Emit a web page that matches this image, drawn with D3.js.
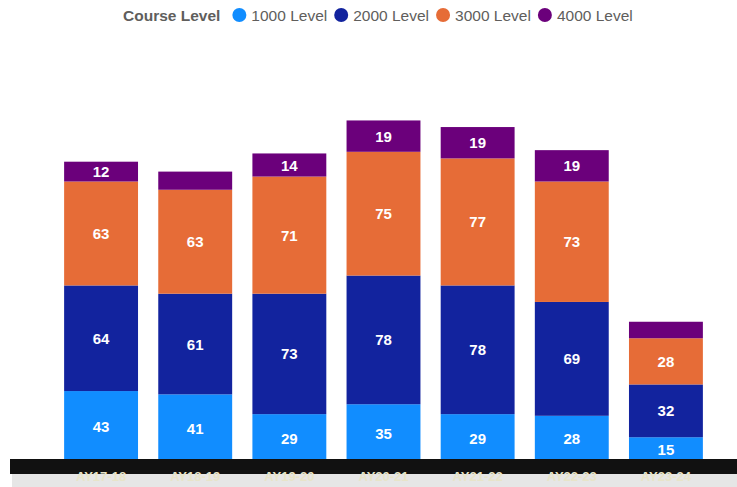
<!DOCTYPE html>
<html>
<head>
<meta charset="utf-8">
<script src="https://cdn.jsdelivr.net/npm/d3@7"></script>
<style>
  body { margin: 0; background: #fff; }
  svg { display: block; font-family: "Liberation Sans", Arial, sans-serif; }
</style>
</head>
<body>
<div id="chart"></div>
<script>
// data
const years = ["AY17-18", "AY18-19", "AY19-20", "AY20-21", "AY21-22", "AY22-23", "AY23-24"];
const levels = ["1000 Level", "2000 Level", "3000 Level", "4000 Level"];
const level1000 = [43, 41, 29, 35, 29, 28, 15];
const level2000 = [64, 61, 73, 78, 78, 69, 32];
const level3000 = [63, 63, 71, 75, 77, 73, 28];
const level4000 = [12, 11, 14, 19, 19, 19, 10];
const colors = ["#118DFF", "#12239E", "#E66C37", "#6B007B"];

const width = 737, height = 487;

const svg = d3.select("#chart").append("svg")
    .attr("width", width).attr("height", height);

// build rows for the stack
const rows = years.map((y, i) => ({
    year: y,
    "1000 Level": level1000[i],
    "2000 Level": level2000[i],
    "3000 Level": level3000[i],
    "4000 Level": level4000[i]
}));
const series = d3.stack().keys(levels)(rows);

const x = d3.scaleBand().domain(years)
    .range([54, 713])
    .paddingInner(0.215).paddingOuter(0.1075);
const y = d3.scaleLinear().domain([0, 250]).range([462, 49.5]);
const color = d3.scaleOrdinal().domain(levels).range(colors);

// bars
const groups = svg.append("g").selectAll("g")
    .data(series).enter().append("g")
    .attr("fill", d => color(d.key));

groups.selectAll("rect")
    .data(d => d).enter().append("rect")
    .attr("x", d => x(d.data.year))
    .attr("y", d => y(d[1]))
    .attr("width", x.bandwidth())
    .attr("height", d => y(d[0]) - y(d[1]));

// labels inside segments, only where they fit
groups.selectAll("text")
    .data(d => d.filter(s => y(s[0]) - y(s[1]) >= 19)).enter().append("text")
    .attr("x", d => x(d.data.year) + x.bandwidth() / 2)
    .attr("y", d => (y(d[0]) + y(d[1])) / 2)
    .attr("text-anchor", "middle")
    .attr("dominant-baseline", "central")
    .style("font-size", "15px")
    .style("font-weight", "bold")
    .style("fill", "#fff")
    .text(d => d[1] - d[0]);

// axis strip at the bottom
svg.append("rect").attr("x", 10).attr("y", 459).attr("width", width - 10).attr("height", 15)
    .attr("fill", "#111");
svg.append("rect").attr("x", 12).attr("y", 474).attr("width", width - 12).attr("height", 13)
    .attr("fill", "#e6e6e6");

svg.append("g").selectAll("text")
    .data(years).enter().append("text")
    .attr("x", d => x(d) + x.bandwidth() / 2)
    .attr("y", 476)
    .attr("text-anchor", "middle")
    .attr("dominant-baseline", "central")
    .style("font-size", "13px")
    .style("font-weight", "bold")
    .style("fill", "#e8e4c8")
    .text(d => d);

// legend
const legend = svg.append("g").attr("transform", "translate(0,15)");
const title = legend.append("text")
    .attr("x", 123).attr("y", 0)
    .attr("dominant-baseline", "central")
    .style("font-size", "15.5px").style("font-weight", "bold")
    .style("fill", "#605E5C")
    .text("Course Level");

let lx = 123 + title.node().getComputedTextLength() + 12;
levels.forEach(function(k) {
    legend.append("circle")
        .attr("cx", lx + 7).attr("cy", 0).attr("r", 7)
        .attr("fill", color(k));
    const t = legend.append("text")
        .attr("x", lx + 19).attr("y", 0)
        .attr("dominant-baseline", "central")
        .style("font-size", "15.5px")
        .style("fill", "#605E5C")
        .text(k);
    lx = lx + 19 + t.node().getComputedTextLength() + 7;
});
</script>
</body>
</html>
